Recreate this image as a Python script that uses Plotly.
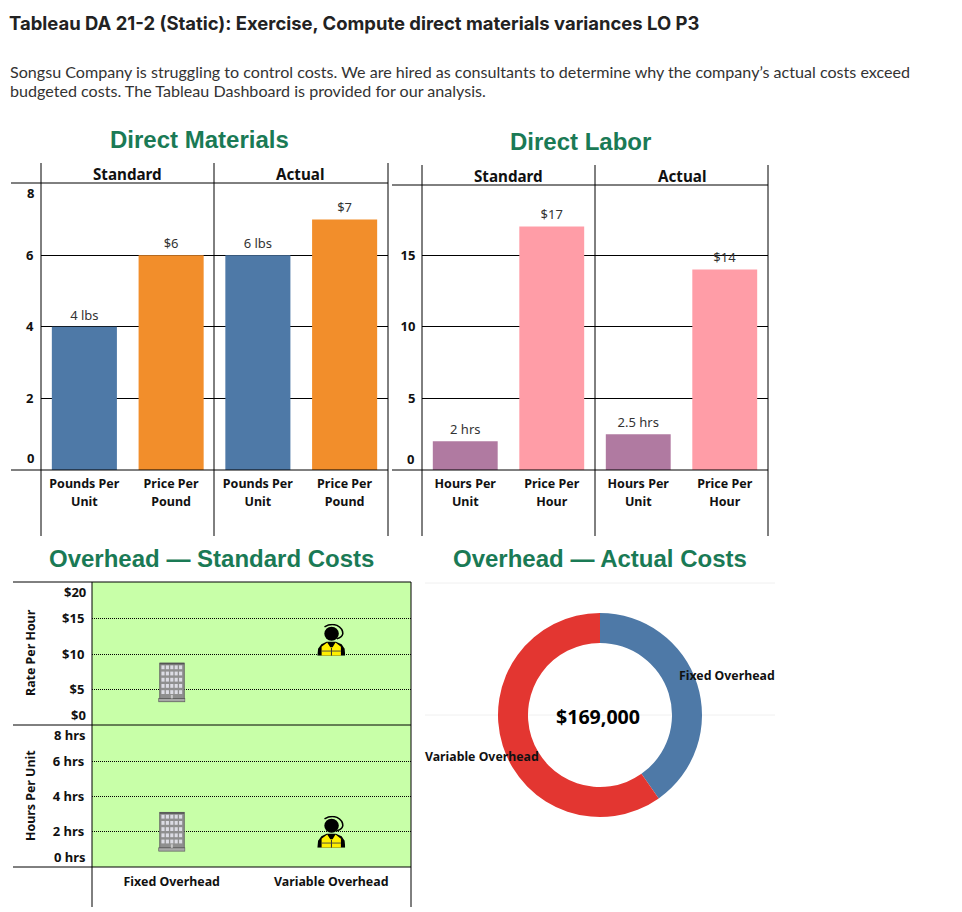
import base64
import plotly.graph_objects as go

W, H = 962, 912

# ---------- data ----------
dm_labels = ["Pounds Per<br>Unit", "Price Per<br>Pound", "Pounds Per<br>Unit", "Price Per<br>Pound"]
dm_values = [4, 6, 6, 7]
dm_text = ["4 lbs", "$6", "6 lbs", "$7"]
dm_colors = ["#4e79a7", "#f28e2b", "#4e79a7", "#f28e2b"]

dl_labels = ["Hours Per<br>Unit", "Price Per<br>Hour", "Hours Per<br>Unit", "Price Per<br>Hour"]
dl_values = [2, 17, 2.5, 14]
dl_text = ["2 hrs", "$17", "2.5 hrs", "$14"]
dl_colors = ["#b07aa1", "#ff9da7", "#b07aa1", "#ff9da7"]

oh_categories = ["Fixed Overhead", "Variable Overhead"]
oh_rate = [6, 12]
oh_hours = [2, 2]
rate_ticks = [5, 10, 15]
rate_tick_text = ["$5", "$10", "$15"]
hour_ticks = [2, 4, 6]
hour_tick_text = ["2 hrs", "4 hrs", "6 hrs"]

donut_labels = ["Fixed Overhead", "Variable Overhead"]
donut_values = [68000, 101000]
donut_colors = ["#4e79a7", "#e33631"]
donut_total = "$169,000"

TITLE = "Tableau DA 21-2 (Static): Exercise, Compute direct materials variances LO P3"
INTRO = ('<span style="font-size:16.1px">Songsu Company is struggling to control costs. We are hired as consultants to determine why the company\u2019s actual costs exceed</span><br>'
         '<span style="font-size:16.1px">budgeted costs. The Tableau Dashboard is provided for our analysis.</span>')

# ---------- helpers ----------
AXF = "Noto Sans"
HEADF = "Liberation Sans"
GREEN = "#1a7a55"


def px(x):
    return x / W


def py(y):
    return 1 - y / H


def note(text, x, y, size=12.4, color="#111", bold=True, family=AXF, anchor="center", angle=0):
    t = f"<b>{text}</b>" if bold else text
    if anchor == "left":
        x -= 3
    elif anchor == "right":
        x += 3
    return dict(text=t, x=px(x), y=py(y), xref="paper", yref="paper", showarrow=False,
                xanchor=anchor, yanchor="middle", textangle=angle, align="left",
                font=dict(size=size, color=color, family=family))


def hline(y, x0, x1, color="black"):
    return dict(type="line", xref="paper", yref="paper", x0=px(x0), x1=px(x1), y0=py(y), y1=py(y),
                line=dict(color=color, width=1))


def vline(x, y0, y1):
    return dict(type="line", xref="paper", yref="paper", x0=px(x), x1=px(x), y0=py(y0), y1=py(y1),
                line=dict(color="black", width=1))


def two_line(s):
    return f'<span style="font-size:12.5px"><b>{s}</b></span>'


def building_svg():
    parts = ['<svg xmlns="http://www.w3.org/2000/svg" width="108" height="160" viewBox="0 0 27 40">',
             '<rect x="1.5" y="0.4" width="24.5" height="36" fill="#8f8f8f" stroke="#5c5c5c" stroke-width="0.8"/>',
             '<rect x="1.5" y="0.4" width="24.5" height="1.6" fill="#555"/>',
             '<rect x="0.4" y="36" width="26.4" height="3.4" fill="#a8a8a8" stroke="#555" stroke-width="0.8"/>',
             '<rect x="12.6" y="32.5" width="2" height="3.5" fill="#c8c8c8"/>']
    for r in range(5):
        for c in range(5):
            parts.append(f'<rect x="{3.2 + c * 4.4:.1f}" y="{3.0 + r * 6.2:.1f}" width="3.1" height="3.8" fill="#dcdce4"/>')
    parts.append("</svg>")
    return "".join(parts)


def worker_svg():
    return ('<svg xmlns="http://www.w3.org/2000/svg" width="108" height="128" viewBox="0 0 27 32">'
            '<circle cx="13.8" cy="10" r="7" fill="black"/>'
            '<path d="M7 3 Q13 -0.6 19 1.6 Q25 5 24.6 10 Q24 13.4 19 15" fill="none" stroke="black" stroke-width="1.5"/>'
            '<path d="M0 32 L0.8 25 L4 20.5 L9 18 L18 18 L23.5 20.5 L26.4 25 L27 32 Z" fill="black"/>'
            '<path d="M4.2 32 L4.2 23 L9.6 18.6 L12.6 23.5 L14.8 23.5 L17.6 18.6 L22.8 23 L22.8 32 Z" fill="#ffef00"/>'
            '<rect x="13.2" y="24" width="1" height="8" fill="#333"/>'
            '<rect x="4.2" y="26.8" width="18.6" height="0.9" fill="#444"/>'
            '</svg>')


def uri(svg):
    return "data:image/svg+xml;base64," + base64.b64encode(svg.encode()).decode()


fig = go.Figure()

# ---------- bars ----------
for axes, vals, txt, cols in [(("x", "y"), dm_values, dm_text, dm_colors),
                              (("x2", "y2"), dl_values, dl_text, dl_colors)]:
    fig.add_trace(go.Bar(x=list(range(4)), y=vals, text=txt, marker=dict(color=cols, line_width=0),
                         textposition="outside", cliponaxis=False, textangle=0,
                         textfont=dict(size=13, family=AXF, color="#333"),
                         xaxis=axes[0], yaxis=axes[1], showlegend=False, hoverinfo="x+y"))

# ---------- overhead markers (positions through the axes) ----------
oh_pos = [0.5, 1.5]
images = []
for xa, ya, vals, unit in [("x3", "y3", oh_rate, 7.1), ("x4", "y4", oh_hours, 17.6)]:
    fig.add_trace(go.Scatter(x=oh_pos, y=vals, mode="markers", marker=dict(size=20, opacity=0),
                             xaxis=xa, yaxis=ya, showlegend=False, hovertext=oh_categories))
    for xp, v, svg, w_px, h_px in zip(oh_pos, vals, [building_svg(), worker_svg()], [27, 28], [40, 32]):
        images.append(dict(source=uri(svg), xref=xa, yref=ya, x=xp, y=v, xanchor="center", yanchor="middle",
                           sizex=w_px / 159.5, sizey=h_px / unit, sizing="stretch", layer="above"))

# ---------- donut ----------
fig.add_trace(go.Pie(labels=donut_labels, values=donut_values, hole=72 / 102, sort=False, direction="clockwise",
                     rotation=0, textinfo="none", showlegend=False,
                     marker=dict(colors=donut_colors, line_width=0),
                     domain=dict(x=[px(498), px(702)], y=[py(817), py(613)])))

# ---------- shapes ----------
shapes = [
    dict(type="rect", xref="paper", yref="paper", x0=px(92), x1=px(411), y0=py(867), y1=py(582),
         fillcolor="#c8ffa8", line_width=0, layer="below"),
    # Direct Materials frame
    vline(41, 163, 536), vline(214, 163, 536), vline(388, 163, 536),
    hline(183, 11, 388), hline(470, 11, 388),
    # Direct Labor frame
    vline(422, 165, 536), vline(595, 165, 536), vline(768, 165, 536),
    hline(185, 392, 768), hline(470, 392, 768),
    # Overhead frame
    vline(92, 582, 907), vline(411, 582, 907),
    hline(582, 13, 411), hline(725, 13, 411), hline(867, 13, 411),
    # Donut faint rules
    dict(hline(583, 425, 775, "#f0f0f0"), layer="below"),
    dict(hline(715, 425, 775, "#f0f0f0"), layer="below"),
]

# ---------- text ----------
annotations = [
    note(TITLE, 10, 23, size=18.45, color="#222", family="Inter", anchor="left"),
    note(INTRO, 11, 81.5, size=14.6, color="#333", bold=False, family="Lato", anchor="left"),
    note("Direct Materials", 199, 139.5, size=24, color=GREEN, family=HEADF),
    note("Direct Labor", 580, 141.5, size=24, color=GREEN, family=HEADF),
    note("Overhead \u2014 Standard Costs", 211.5, 558.5, size=24, color=GREEN, family=HEADF),
    note("Overhead \u2014 Actual Costs", 600, 558.5, size=24, color=GREEN, family=HEADF),
    note("Standard", 127, 174, size=15.2), note("Actual", 300, 174, size=15.2),
    note("Standard", 508, 176, size=15.2), note("Actual", 682, 176, size=15.2),
    note("8", 33, 193, size=13, anchor="right"), note("0", 33, 458, size=13, anchor="right"),
    note("0", 413, 459, size=13, anchor="right"),
    note("$20", 85, 592, size=13, anchor="right"), note("$0", 85, 715, size=13, anchor="right"),
    note("8 hrs", 85, 735, size=13, anchor="right"), note("0 hrs", 85, 857, size=13, anchor="right"),
    note("Rate Per Hour", 30, 653, angle=-90), note("Hours Per Unit", 30, 796, angle=-90),
    note("Fixed Overhead", 727, 675, size=12.3), note("Variable Overhead", 482.5, 756, size=12.3),
    note(donut_total, 598, 716, size=19.6, color="black"),
]

# ---------- axes ----------
tickfont = dict(size=13, family=AXF, color="#111")
two_font = dict(size=13.9, family=AXF, color="#111")


def xcat(domain, labels, anchor):
    return dict(domain=[px(domain[0]), px(domain[1])], anchor=anchor, range=[-0.5, 3.5], tickmode="array",
                tickvals=list(range(4)), ticktext=[two_line(s) for s in labels], tickangle=0,
                showgrid=False, zeroline=False, showline=False, ticks="outside", ticklen=0,
                tickcolor="rgba(0,0,0,0)", tickfont=two_font, fixedrange=True)


def ynum(top, bottom, rng, vals, text, anchor, ticklen):
    return dict(domain=[py(bottom), py(top)], anchor=anchor, range=rng, tickmode="array", tickvals=vals,
                ticktext=[f"<b>{t}</b>" for t in text], showgrid=True, gridcolor="black", gridwidth=1,
                zeroline=False, showline=False, ticks="outside", ticklen=ticklen, tickcolor="rgba(0,0,0,0)",
                tickfont=tickfont, fixedrange=True)


dots = dict(griddash="1px,1px")

fig.update_layout(
    width=W, height=H, autosize=False, margin=dict(l=0, r=0, t=0, b=0),
    paper_bgcolor="white", plot_bgcolor="white", showlegend=False, bargap=0.25,
    shapes=shapes, annotations=annotations, images=images,
    xaxis=xcat((41, 388), dm_labels, "y"),
    yaxis=ynum(183, 470, [0, 287 / 35.8], [2, 4, 6], ["2", "4", "6"], "x", 4),
    xaxis2=xcat((422, 768), dl_labels, "y2"),
    yaxis2=ynum(185, 470, [0, 285 / 14.33], [5, 10, 15], ["5", "10", "15"], "x2", 3),
    xaxis3=dict(domain=[px(92), px(411)], anchor="y3", range=[0, 2], showticklabels=False, showgrid=False,
                zeroline=False, ticks="", fixedrange=True),
    yaxis3=dict(ynum(582, 725, [0, 143 / 7.1], rate_ticks, rate_tick_text, "x3", 4), **dots),
    xaxis4=dict(domain=[px(92), px(411)], anchor="y4", range=[0, 2], tickmode="array", tickvals=oh_pos,
                ticktext=[f"<b>{c}</b>" for c in oh_categories], showgrid=False, zeroline=False, ticks="outside",
                ticklen=3, tickcolor="rgba(0,0,0,0)", tickfont=dict(size=12.4, family=AXF, color="#111"),
                fixedrange=True),
    yaxis4=dict(ynum(725, 867, [0, 142 / 17.6], hour_ticks, hour_tick_text, "x4", 4), **dots),
)

fig.write_html("out.html", config={"displayModeBar": False},
               post_script="document.body.style.margin='0';")
